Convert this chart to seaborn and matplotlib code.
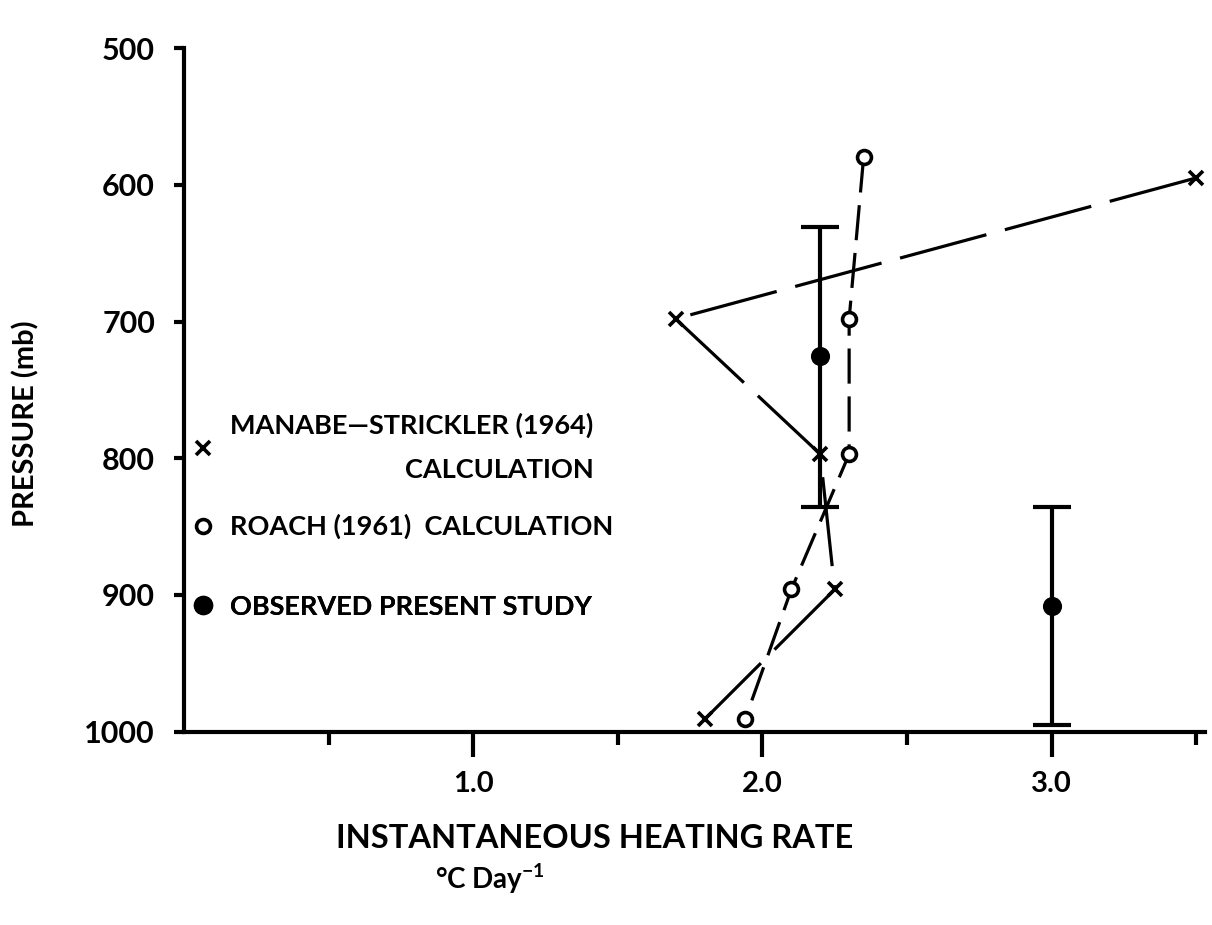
import matplotlib
matplotlib.use("Agg")
import matplotlib.pyplot as plt
from matplotlib.lines import Line2D
import seaborn as sns
import pandas as pd

# Heating-rate profiles (deg C per day) against pressure (mb)
manabe_rate = [3.50, 1.70, 2.20, 2.25, 1.80]
manabe_pres = [595, 698, 797, 896, 991]

roach_rate = [2.35, 2.30, 2.30, 2.10, 1.94]
roach_pres = [580, 698, 797, 896, 991]

obs_rate = [2.20, 3.00]
obs_pres = [725, 908]
obs_top = [631, 836]
obs_bottom = [836, 995]

y_ticks = [500, 600, 700, 800, 900, 1000]
x_major = [1.0, 2.0, 3.0]
x_minor = [0.5, 1.5, 2.5, 3.5]

legend_labels = ["MANABE\u2014STRICKLER (1964)\nCALCULATION",
                 "ROACH (1961)  CALCULATION",
                 "OBSERVED PRESENT STUDY"]

sns.set_theme(style="ticks")
plt.rcParams["font.family"] = ["Lato", "DejaVu Sans"]
plt.rcParams["font.weight"] = "bold"
plt.rcParams["mathtext.default"] = "regular"
plt.rcParams["axes.linewidth"] = 3.0
for key in ["text.color", "axes.labelcolor", "xtick.color", "ytick.color",
            "axes.edgecolor"]:
    plt.rcParams[key] = "black"

W = "bold"

fig = plt.figure(figsize=(12.12, 9.25), dpi=100)
ax = fig.add_axes([0.152, 0.209, 0.842, 0.739])

manabe = pd.DataFrame({"rate": manabe_rate, "pressure": manabe_pres})
roach = pd.DataFrame({"rate": roach_rate, "pressure": roach_pres})
obs = pd.DataFrame({"rate": obs_rate, "pressure": obs_pres})

sns.lineplot(data=manabe, x="rate", y="pressure", sort=False, estimator=None,
             color="black", linewidth=2.3, linestyle=(0, (28, 6)),
             marker="x", markersize=10, markeredgecolor="black",
             markeredgewidth=2.6, ax=ax)
sns.lineplot(data=roach, x="rate", y="pressure", sort=False, estimator=None,
             color="black", linewidth=2.3, linestyle=(0, (11, 4)),
             marker="o", markersize=10, markerfacecolor="white",
             markeredgecolor="black", markeredgewidth=2.6, ax=ax)

err_low = [p - t for p, t in zip(obs_pres, obs_top)]
err_high = [b - p for p, b in zip(obs_pres, obs_bottom)]
ax.errorbar(obs_rate, obs_pres, yerr=[err_low, err_high], fmt="none",
            ecolor="black", elinewidth=3.0, capsize=14, capthick=3.0, zorder=3)
sns.scatterplot(data=obs, x="rate", y="pressure", color="black", s=190,
                edgecolor="black", linewidth=0, zorder=4, ax=ax)

ax.set_xlim(0, 3.53)
ax.set_ylim(1000, 500)
ax.set_yticks(y_ticks)
ax.set_yticklabels([str(v) for v in y_ticks], fontsize=22, fontweight=W)
ax.set_xticks(x_major)
ax.set_xticklabels([f"{v:.1f}" for v in x_major], fontsize=21, fontweight=W)
ax.set_xticks(x_minor, minor=True)
ax.tick_params(axis="x", which="major", length=18, width=3, pad=10, direction="out")
ax.tick_params(axis="x", which="minor", length=9, width=3, direction="out")
ax.tick_params(axis="y", which="major", length=7, width=3, pad=14, direction="out")
sns.despine(ax=ax)

ax.set_ylabel("PRESSURE (mb)", fontsize=21, fontweight=W)
ax.yaxis.set_label_coords(-0.142, 0.45)
ax.set_xlabel("INSTANTANEOUS HEATING RATE", fontsize=23.5, fontweight=W)
ax.xaxis.set_label_coords(0.402, -0.135)
ax.text(0.30, -0.215, "\u00b0C Day$^{-1}$", transform=ax.transAxes,
        ha="center", va="center", fontsize=20, fontweight=W)

handles = [
    Line2D([], [], linestyle="none", marker="x", color="black",
           markersize=10, markeredgewidth=2.6),
    Line2D([], [], linestyle="none", marker="o", markerfacecolor="white",
           markeredgecolor="black", markersize=10, markeredgewidth=2.6),
    Line2D([], [], linestyle="none", marker="o", color="black", markersize=13),
]
# one key per row so each row can sit at its own height
row_centers = [0.416, 0.300, 0.183]
for handle, label, yc in zip(handles, legend_labels, row_centers):
    leg = ax.legend([handle], [label], loc="center left",
                    bbox_to_anchor=(0.004, yc), frameon=False, fontsize=19.5,
                    handlelength=1.1, handletextpad=0.45,
                    borderpad=0, borderaxespad=0)
    for t in leg.get_texts():
        t.set_fontweight(W)
        t.set_multialignment("right")
        t.set_linespacing(2.0)
    ax.add_artist(leg)

fig.savefig("out.png", dpi=100, facecolor="white")
